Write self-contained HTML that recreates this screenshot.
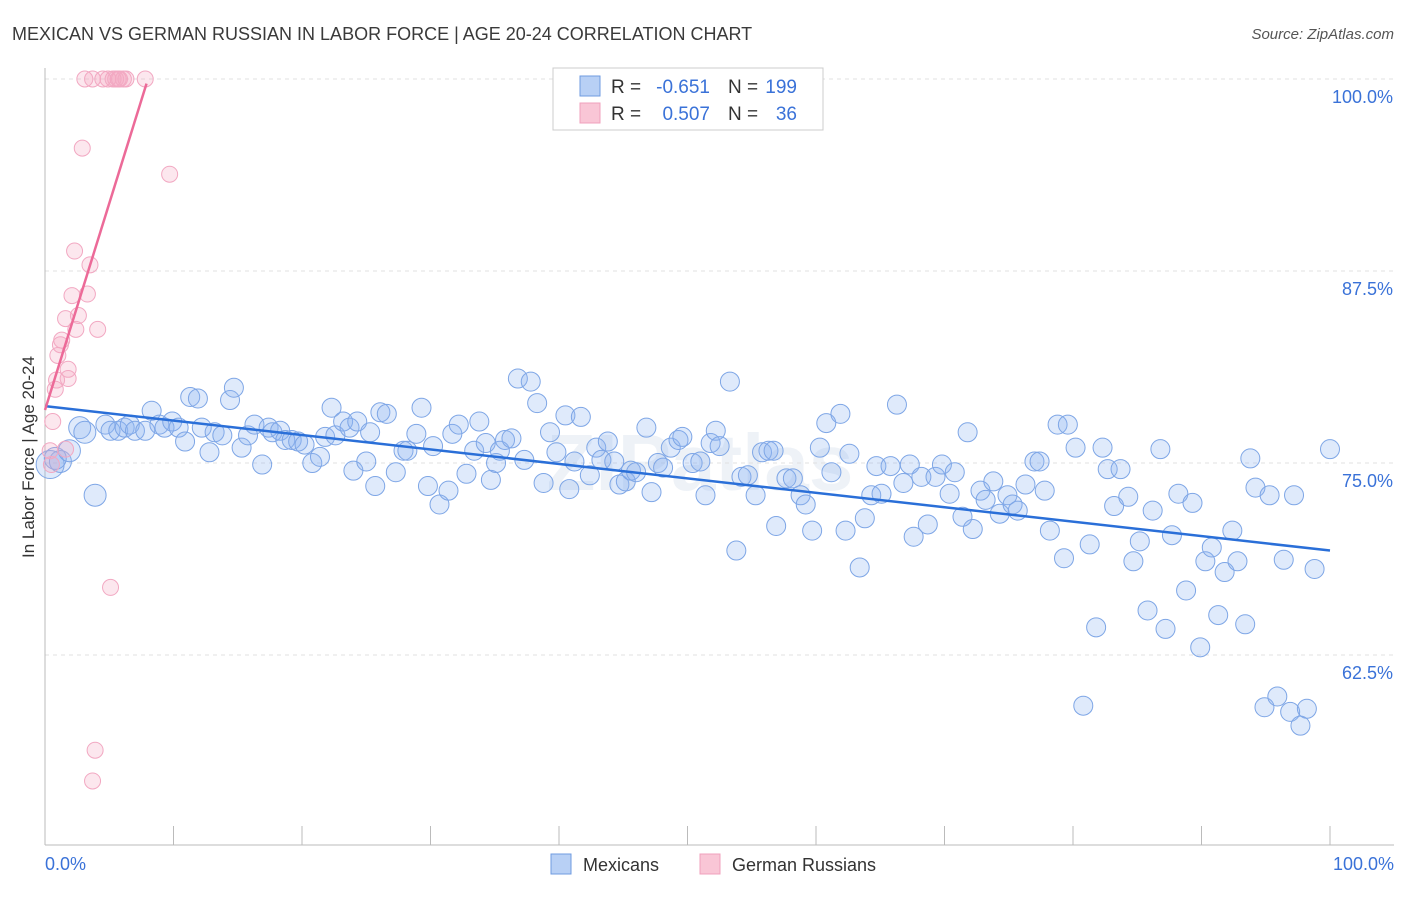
<!DOCTYPE html>
<html><head><meta charset="utf-8"><style>
body{margin:0;background:#fff;font-family:"Liberation Sans",sans-serif}
svg text{font-family:"Liberation Sans",sans-serif}
</style></head><body>
<svg width="1406" height="892" xmlns="http://www.w3.org/2000/svg">
<text x="12" y="40" font-size="18" fill="#3a3a3a">MEXICAN VS GERMAN RUSSIAN IN LABOR FORCE | AGE 20-24 CORRELATION CHART</text>
<text x="1394" y="39" font-size="15" fill="#555" text-anchor="end" font-style="italic">Source: ZipAtlas.com</text>
<text x="700" y="490" font-size="80" fill="#dfe6f0" text-anchor="middle" font-weight="bold" opacity="0.5">ZIPatlas</text>
<g id="grid"></g>
<g id="axes"></g>
<g id="pts"></g>
<g id="trend"></g>
<text transform="translate(34,457) rotate(-90)" font-size="17" fill="#333" text-anchor="middle">In Labor Force | Age 20-24</text>
<g>
<rect x="553" y="68" width="270" height="62" fill="#fff" stroke="#ccc"/>
<rect x="580" y="76" width="20" height="20" fill="#b8d0f5" stroke="#6f9be0"/>
<rect x="580" y="103" width="20" height="20" fill="#f9c6d6" stroke="#f0a0bc"/>
<text x="611" y="93" font-size="19" fill="#333">R =</text>
<text x="710" y="93" font-size="19" fill="#3a72d8" text-anchor="end">-0.651</text>
<text x="728" y="93" font-size="19" fill="#333">N =</text>
<text x="797" y="93" font-size="19" fill="#3a72d8" text-anchor="end">199</text>
<text x="611" y="120" font-size="19" fill="#333">R =</text>
<text x="710" y="120" font-size="19" fill="#3a72d8" text-anchor="end">0.507</text>
<text x="728" y="120" font-size="19" fill="#333">N =</text>
<text x="797" y="120" font-size="19" fill="#3a72d8" text-anchor="end">36</text>
</g>
<g>
<rect x="551" y="854" width="20" height="20" fill="#b8d0f5" stroke="#6f9be0"/>
<text x="583" y="871" font-size="18" fill="#333">Mexicans</text>
<rect x="700" y="854" width="20" height="20" fill="#f9c6d6" stroke="#f0a0bc"/>
<text x="732" y="871" font-size="18" fill="#333">German Russians</text>
</g>
</svg>
<script>
const yTicks=[100,87.5,75,62.5];
const yTickLabels=["100.0%","87.5%","75.0%","62.5%"];
const blueX=[0.4,1.2,0.8,1.9,2.7,3.1,3.9,4.7,5.1,5.7,6.2,6.6,7.0,7.8,8.3,8.9,9.3,9.9,10.4,10.9,11.3,11.9,12.2,12.8,13.2,13.8,14.4,14.7,15.3,15.8,16.3,16.9,17.4,17.7,18.3,18.7,19.2,19.7,20.2,20.8,21.4,21.8,22.3,22.6,23.2,23.7,24.0,24.3,25.0,25.3,25.7,26.1,26.6,27.3,27.9,28.2,28.9,29.3,29.8,30.2,30.7,31.4,31.7,32.2,32.8,33.4,33.8,34.3,34.7,35.1,35.4,35.8,36.3,36.8,37.3,37.8,38.3,38.8,39.3,39.8,40.5,40.8,41.2,41.7,42.4,42.9,43.3,43.8,44.3,44.7,45.2,45.6,46.0,46.8,47.2,47.7,48.1,48.7,49.3,49.6,50.4,51.0,51.4,51.8,52.2,52.5,53.3,53.8,54.2,54.7,55.3,55.8,56.3,56.7,56.9,57.7,58.2,58.8,59.2,59.7,60.3,60.8,61.2,61.9,62.3,62.6,63.4,63.8,64.3,64.7,65.1,65.8,66.3,66.8,67.3,67.6,68.2,68.7,69.3,69.8,70.4,70.8,71.4,71.8,72.2,72.8,73.2,73.8,74.3,74.9,75.3,75.7,76.3,77.0,77.4,77.8,78.2,78.8,79.3,79.6,80.2,80.8,81.3,81.8,82.3,82.7,83.2,83.7,84.3,84.7,85.2,85.8,86.2,86.8,87.2,87.7,88.2,88.8,89.3,89.9,90.3,90.8,91.3,91.8,92.4,92.8,93.4,93.8,94.2,94.9,95.3,95.9,96.4,96.9,97.2,97.7,98.2,98.8,100];
const blueY=[74.9,75.1,75.3,75.8,77.3,77.0,72.9,77.5,77.1,77.1,77.3,77.5,77.1,77.1,78.4,77.5,77.3,77.7,77.3,76.4,79.3,79.2,77.3,75.7,77.0,76.8,79.1,79.9,76.0,76.8,77.5,74.9,77.3,77.0,77.1,76.5,76.5,76.4,76.2,75.0,75.4,76.7,78.6,76.8,77.7,77.3,74.5,77.7,75.1,77.0,73.5,78.3,78.2,74.4,75.8,75.8,76.9,78.6,73.5,76.1,72.3,73.2,76.9,77.5,74.3,75.8,77.7,76.3,73.9,75.0,75.8,76.5,76.6,80.5,75.2,80.3,78.9,73.7,77.0,75.7,78.1,73.3,75.1,78.0,74.2,76.0,75.2,76.4,75.1,73.6,73.8,74.5,74.4,77.3,73.1,75.0,74.7,76.0,76.5,76.7,75.0,75.1,72.9,76.3,77.1,76.1,80.3,69.3,74.1,74.2,72.9,75.7,75.8,75.8,70.9,74.0,74.0,72.9,72.3,70.6,76.0,77.6,74.4,78.2,70.6,75.6,68.2,71.4,72.9,74.8,73.0,74.8,78.8,73.7,74.9,70.2,74.1,71.0,74.1,74.9,73.0,74.4,71.5,77.0,70.7,73.2,72.6,73.8,71.7,72.9,72.3,71.9,73.6,75.1,75.1,73.2,70.6,77.5,68.8,77.5,76.0,59.2,69.7,64.3,76.0,74.6,72.2,74.6,72.8,68.6,69.9,65.4,71.9,75.9,64.2,70.3,73.0,66.7,72.4,63.0,68.6,69.5,65.1,67.9,70.6,68.6,64.5,75.3,73.4,59.1,72.9,59.8,68.7,58.8,72.9,57.9,59.0,68.1,75.9];
const pinkX=[0.5,0.4,0.6,0.8,0.9,1.0,1.2,1.3,1.6,1.8,1.8,2.1,2.3,2.4,2.6,2.9,3.1,3.3,3.5,3.7,4.1,3.9,3.7,4.5,4.9,5.1,5.3,5.5,5.7,5.8,6.1,6.3,7.8,9.7,1.6];
const pinkY=[74.9,75.8,77.7,79.8,80.4,82.0,82.7,83.0,84.4,81.1,80.5,85.9,88.8,83.7,84.6,95.5,100,86.0,87.9,100,83.7,56.3,54.3,100,100,66.9,100,100,100,100,100,100,100,93.8,75.9];
const blueTrend=[[0,78.7],[100,69.3]];
const pinkTrend=[[0,78.45],[7.9,99.7]];
const X=v=>45+v*12.85, Y=v=>79+(100-v)*15.36;
const NS="http://www.w3.org/2000/svg";
function mk(t,a,p){const e=document.createElementNS(NS,t);for(const k in a)e.setAttribute(k,a[k]);p.appendChild(e);return e;}
const grid=document.getElementById('grid'),axes=document.getElementById('axes'),pts=document.getElementById('pts'),trend=document.getElementById('trend');
yTicks.forEach((t,i)=>{
 const l=mk('line',{x1:45,x2:1394,y1:Y(t),y2:Y(t),stroke:'#e0e0e0','stroke-dasharray':'4,4'},grid);
 
 
 const tx=mk('text',{x:1393,y:Y(t)+24,'font-size':18,fill:'#3a72d8','text-anchor':'end'},axes);
 tx.textContent=yTickLabels[i];
 
 
});
mk('line',{x1:45,x2:1394,y1:845,y2:845,stroke:'#bbb'},axes);
mk('line',{x1:45,x2:45,y1:68,y2:845,stroke:'#bbb'},axes);
for(let i=0;i<=10;i++){const t=mk('line',{x1:X(i*10),x2:X(i*10),y1:826,y2:845,stroke:'#bbb'},axes);
 
 }
const xl=mk('text',{x:45,y:870,'font-size':18,fill:'#3a72d8'},axes);xl.textContent='0.0%';


const xr=mk('text',{x:1394,y:870,'font-size':18,fill:'#3a72d8','text-anchor':'end'},axes);xr.textContent='100.0%';


blueX.forEach((x,i)=>{const r=i===0?14:(i<7?11:9.5);
 const c=mk('circle',{cx:X(x),cy:Y(blueY[i]),r:r,fill:'rgba(140,180,240,0.28)',stroke:'#7ea6e6','stroke-width':1},pts);
 
 });
pinkX.forEach((x,i)=>{
 const c=mk('circle',{cx:X(x),cy:Y(pinkY[i]),r:8,fill:'rgba(245,170,195,0.28)',stroke:'#f2a8c2','stroke-width':1},pts);
 
 });
const bl=mk('line',{x1:X(blueTrend[0][0]),y1:Y(blueTrend[0][1]),x2:X(blueTrend[1][0]),y2:Y(blueTrend[1][1]),stroke:'#2a6fd8','stroke-width':2.5},trend);


const pl=mk('line',{x1:X(pinkTrend[0][0]),y1:Y(pinkTrend[0][1]),x2:X(pinkTrend[1][0]),y2:Y(pinkTrend[1][1]),stroke:'#ec6a98','stroke-width':2.5},trend);


</script>
</body></html>
